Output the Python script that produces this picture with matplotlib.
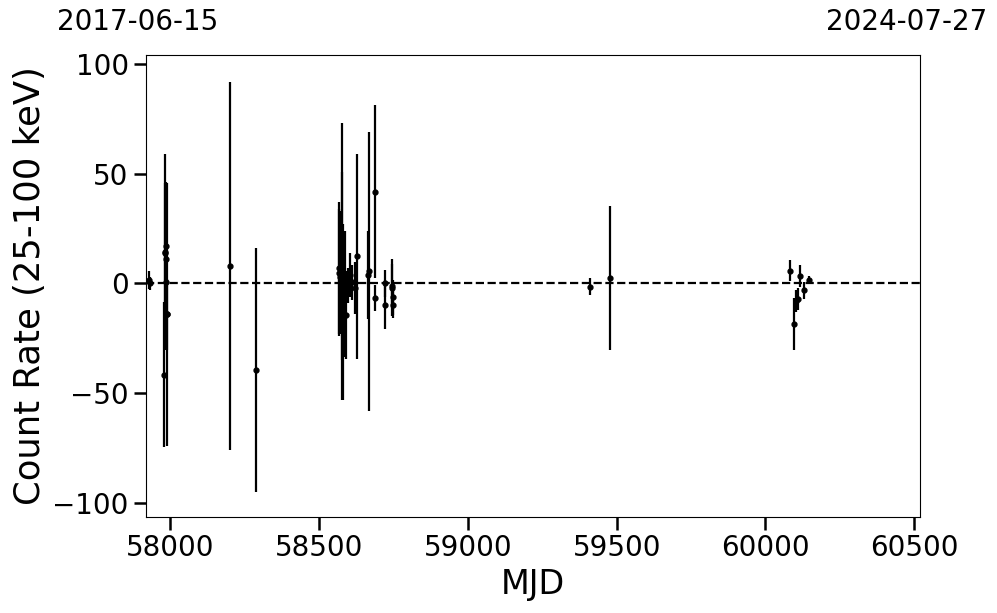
import numpy as np
import matplotlib
matplotlib.use("Agg")
import matplotlib.pyplot as plt

# light curve points: MJD, rate, 1-sigma error
mjd = [57930, 57932, 57978, 57983, 57984, 57985, 57986, 57985, 57989, 57990,
       58202, 58287,
       58566, 58568, 58570, 58574, 58577, 58579, 58581, 58583, 58586,
       58592, 58597, 58605, 58612, 58622, 58628,
       58666, 58669, 58687, 58689,
       58721, 58723, 58745, 58747, 58748, 58749,
       59410, 59478,
       60082, 60095, 60103, 60110, 60116, 60130, 60146]
rate = [1.5, 0.0, -41.5, 13.7, 14.3, 17.3, 11.2, 0.6, -14.1, -14.1,
        8.0, -39.3,
        5.0, 7.0, 3.0, 8.0, 19.1, -1.0, -13.0, -7.7, 4.0,
        -14.3, -1.0, 4.0, 0.5, -2.0, 12.4,
        4.0, 5.5, 41.9, -6.5,
        0.0, -9.6, -1.0, -2.0, -6.2, -9.6,
        -1.4, 2.7,
        5.9, -18.4, -8.0, -7.0, 3.6, -3.2, 1.8]
err = [4, 3, 33.2, 32.3, 44.7, 28, 35, 30, 60, 16,
       84, 55.6,
       29, 30, 26, 25, 54, 52, 40, 26, 20,
       20, 8, 10, 8, 12, 46.6,
       20, 63.7, 39.4, 6,
       6, 11, 10, 13, 8, 6,
       4, 32.8,
       4.7, 12, 5, 5, 5, 4, 1.5]

yticks = [-100, -50, 0, 50, 100]
xticks = [58000, 58500, 59000, 59500, 60000, 60500]
date_start = "2017-06-15"
date_end = "2024-07-27"

fig = plt.figure(figsize=(9.97, 6.13), dpi=100)
ax = fig.add_axes([146/997, 1 - 517/613, (920-146)/997, (517-55)/613])

ax.errorbar(mjd, rate, yerr=err, fmt="o", color="black", ms=3.5,
            elinewidth=1.6, capsize=0)
ax.axhline(0, color="black", ls="--", lw=1.6)

ax.set_xlim(57919, 60519)
ax.set_ylim(-106.4, 104.1)
ax.set_xticks(xticks)
ax.set_yticks(yticks)
ax.tick_params(axis="both", which="major", labelsize=20, length=9, width=1.8)
ax.set_xlabel("MJD", fontsize=24)
ax.set_ylabel("Count Rate (25-100 keV)", fontsize=25.5)

# dates of the two ends of the x range
fig.text(57/997, 1 - 22/613, date_start, fontsize=20, ha="left", va="center")
fig.text(987/997, 1 - 22/613, date_end, fontsize=20, ha="right", va="center")

fig.savefig("out.png", dpi=100)
